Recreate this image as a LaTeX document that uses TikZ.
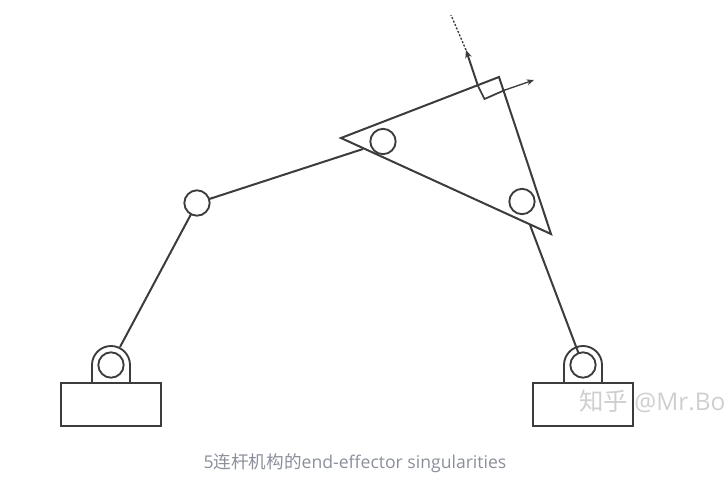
\documentclass[tikz,border=0pt]{standalone}
\usepackage{fontspec}
\setmainfont{Open Sans}
\newfontfamily\cjk{Noto Sans CJK SC}
\usetikzlibrary{arrows.meta}
\definecolor{ink}{HTML}{3C3C3C}
\definecolor{captiongray}{HTML}{8A8F9A}
\definecolor{markgray}{HTML}{CFCFCF}
\tikzset{
  x=0.75pt,y=-0.75pt,
  part/.style={draw=ink,line width=1.5pt,line join=miter},
  joint/.style={circle,draw=ink,line width=1.4pt,fill=white,minimum size=19pt,inner sep=0pt,outer sep=0pt},
  plate/.style={draw=ink,line width=1.6pt,fill=white,minimum width=75pt,minimum height=32pt,inner sep=0pt,outer sep=0pt},
  thinvec/.style={draw=ink,line width=1pt,-{Stealth[length=5.5pt,width=4.5pt]}},
  strongvec/.style={draw=ink,line width=1.5pt,-{Stealth[length=6pt,width=5pt]}},
  dottedvec/.style={draw=ink,line width=1pt,dash pattern=on 1.6pt off 1.2pt},
  captiontext/.style={text=captiongray,font=\fontsize{13.2}{15}\selectfont,inner sep=0pt},
  marktext/.style={text=markgray,font=\fontsize{18.3}{20}\selectfont,inner sep=0pt}
}
\begin{document}
\begin{tikzpicture}
\useasboundingbox (0,0) rectangle (728,482);
% coordinates
\coordinate (triA) at (341,138);
\coordinate (triB) at (499,77);
\coordinate (triC) at (551,234);
\coordinate (sqA) at (478,86);
\coordinate (sqB) at (484.5,99);
\coordinate (sqC) at (505,90);
\coordinate (upTip) at (466,50);
\coordinate (dashEnd) at (451,15);
\coordinate (rightTip) at (534,80);
\coordinate (linkEndL) at (363,149);
\coordinate (linkEndR) at (530,225);
% watermark sits behind the right base outline
\node[plate] (baseL) at (111,404.5) {};
\node[plate] (baseR) at (583,404.5) {};
\node[marktext,anchor=west] (mark) at (579,401) {{\cjk 知乎} @Mr.Bo};
% arches
\draw[part,line width=1.4pt] (92,383) -- (92,365) arc[start angle=180,end angle=360,radius=19] -- (130,383);
\draw[part,line width=1.4pt] (564,383) -- (564,365) arc[start angle=180,end angle=360,radius=19] -- (602,383);
% joints
\node[joint] (pivotL) at (111,365) {};
\node[joint] (pivotR) at (583,365) {};
\node[joint] (elbow) at (197,203) {};
\node[joint,draw=none,fill=none] (jointA) at (383,141.5) {};
\node[joint,draw=none,fill=none] (jointC) at (522,201.5) {};
% links
\draw[part] (pivotL) ++(9,-18) -- (elbow);
\draw[part] (elbow) -- (linkEndL);
\draw[part] (linkEndR) -- (pivotR);
% platform
\draw[part] (triA) -- (triB) -- (triC) -- cycle;
\node[joint,fill=none] at (jointA) {};
\node[joint,fill=none] at (jointC) {};
% right-angle mark
\draw[part,line width=1.3pt] (sqA) -- (sqB) -- (sqC);
% vectors
\draw[strongvec] (sqA) -- (upTip);
\draw[dottedvec] (upTip) -- (dashEnd);
\draw[thinvec] (sqC) -- (rightTip);
% texts
\node[captiontext] (caption) at (355,463.5) {5{\cjk 连杆机构的}end-effector singularities};
\end{tikzpicture}
\end{document}
